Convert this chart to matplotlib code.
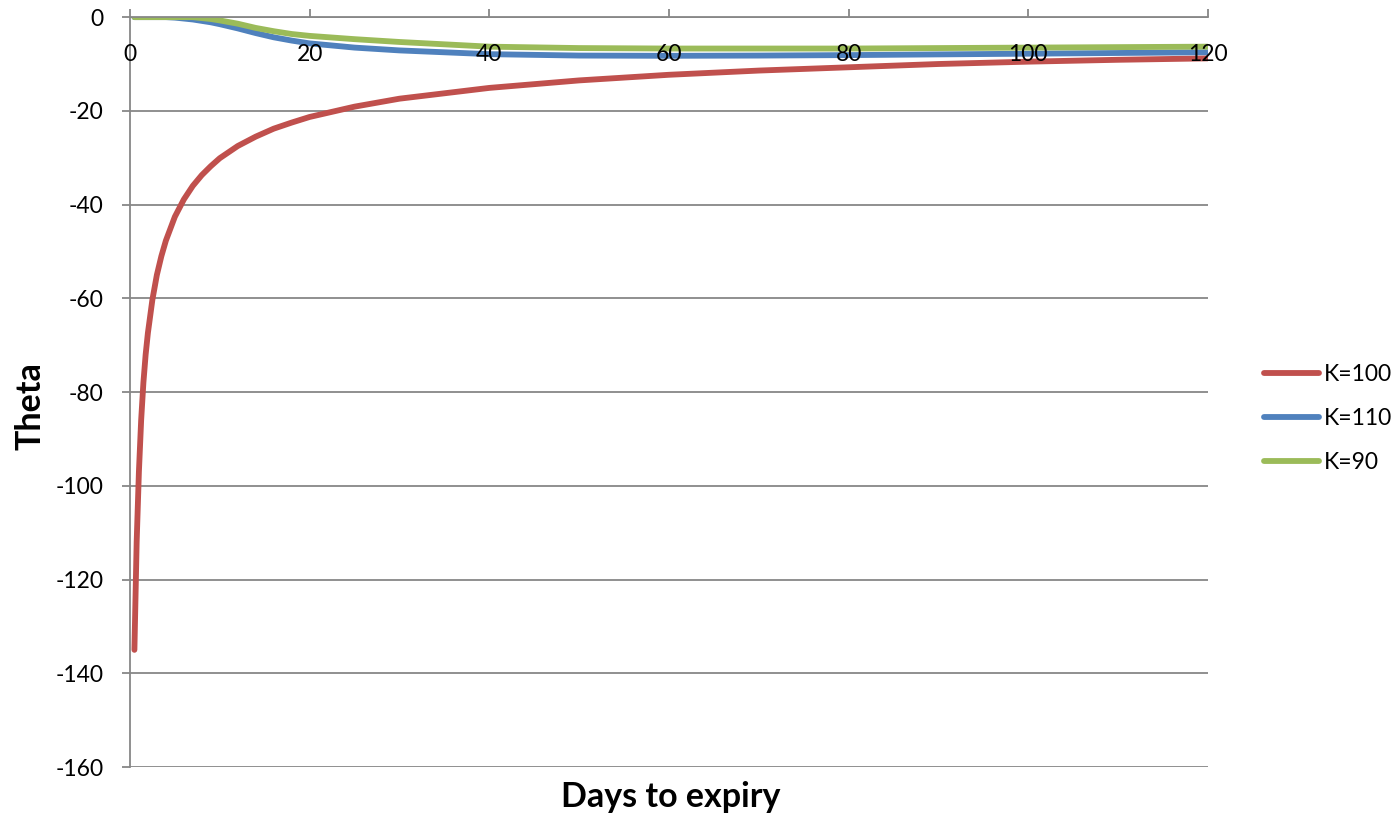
import matplotlib.pyplot as plt

plt.rcParams['font.family'] = ['Lato', 'DejaVu Sans']
plt.rcParams['axes.unicode_minus'] = False

# days to expiry and theta per strike
days = [0.5, 0.75, 1, 1.25, 1.5, 1.75, 2, 2.5, 3, 3.5, 4, 5, 6, 7, 8, 9, 10, 12, 14, 16, 18, 20,
        25, 30, 40, 50, 60, 70, 80, 90, 100, 110, 120]
theta_k100 = [-135, -112, -97, -86, -78, -72, -67.4, -60.3, -55.0, -51.0, -47.7, -42.6, -38.9, -36.0,
              -33.7, -31.8, -30.1, -27.5, -25.5, -23.8, -22.5, -21.3,
              -19.1, -17.4, -15.1, -13.5, -12.3, -11.4, -10.7, -10.0, -9.5, -9.1, -8.8]
theta_k110 = [0, 0, 0, 0, 0, 0, 0, 0, 0, 0, 0, -0.1, -0.3, -0.5, -0.8, -1.1, -1.5, -2.4, -3.4, -4.3, -5.0, -5.6,
              -6.5, -7.1, -7.9, -8.2, -8.25, -8.2, -8.1, -7.95, -7.8, -7.65, -7.5]
theta_k90 = [0, 0, 0, 0, 0, 0, 0, 0, 0, 0, 0, 0, 0, 0, -0.2, -0.4, -0.7, -1.4, -2.3, -3.0, -3.6, -4.0,
             -4.7, -5.3, -6.3, -6.6, -6.7, -6.7, -6.7, -6.6, -6.5, -6.4, -6.3]

fig = plt.figure(figsize=(13.97, 8.16), dpi=100)
ax = fig.add_axes([0.093, 0.06, 0.7717, 0.919])

ax.plot(days, theta_k100, color='#C0504D', linewidth=4.2, label='K=100', solid_capstyle='round')
ax.plot(days, theta_k110, color='#4F81BD', linewidth=4.2, label='K=110', solid_capstyle='round')
ax.plot(days, theta_k90, color='#9BBB59', linewidth=4.2, label='K=90', solid_capstyle='round')

ax.set_xlim(0, 120)
ax.set_ylim(-160, 0)
ax.set_xticks(range(0, 121, 20))
ax.set_yticks(range(-160, 1, 20))

ax.grid(axis='y', color='#878787', linewidth=1.3)
ax.set_axisbelow(True)
# gridlines stay under the curves, but the day labels sit on top of them
ax.xaxis.set_zorder(3)

for s in ['top', 'right']:
    ax.spines[s].set_visible(False)
ax.spines['bottom'].set_position(('data', 0))
ax.spines['bottom'].set_color('#878787')
ax.spines['left'].set_color('#878787')
ax.spines['bottom'].set_linewidth(1.3)
ax.spines['left'].set_linewidth(1.3)

ax.tick_params(axis='x', direction='in', length=6, width=1.3, color='#878787',
               labelsize=16.5, pad=19)
ax.tick_params(axis='y', direction='out', length=6, width=1.3, color='#878787',
               labelsize=16.5, pad=13)

fig.text(0.0215, 0.502, 'Theta', rotation=90, ha='center', va='center',
         fontsize=24.5, fontweight='bold')
fig.text(0.48, 0.023, 'Days to expiry', ha='center', va='center',
         fontsize=24.5, fontweight='bold')

ax.legend(loc='center left', bbox_to_anchor=(0.905, 0.487), bbox_transform=fig.transFigure,
          frameon=False, fontsize=16.5, handlelength=2.4, handletextpad=0.2,
          labelspacing=1.0, borderpad=0, borderaxespad=0)

fig.savefig('out.png', dpi=100)
